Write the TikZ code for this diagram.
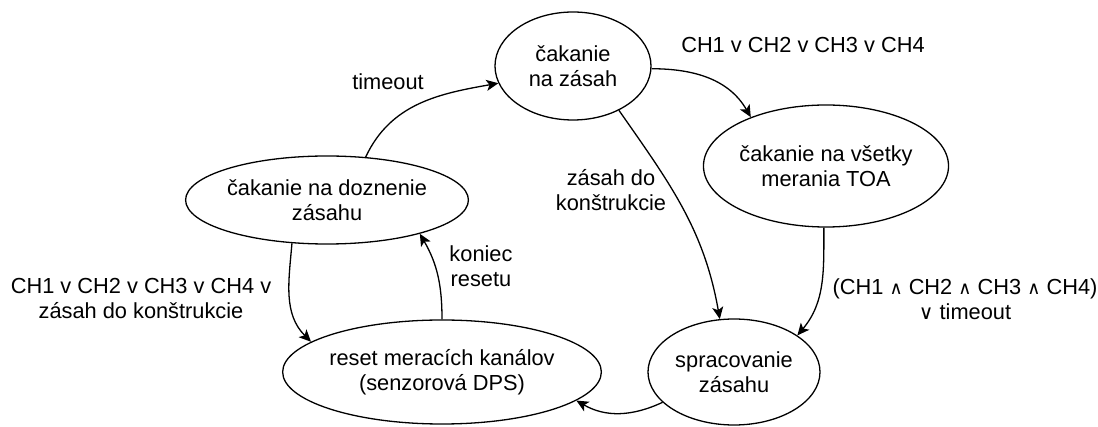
\documentclass[tikz,border=0pt]{standalone}
\usepackage{fontspec}
\setmainfont{Liberation Sans}
\newfontfamily\symf{DejaVu Sans}
\usetikzlibrary{shapes.geometric,arrows.meta}
\newcommand{\myand}{{\symf\fontsize{18}{25}\selectfont ∧}}
\newcommand{\myor}{{\symf\fontsize{20}{25}\selectfont ∨}}
\begin{document}
\begin{tikzpicture}[x=1pt,y=-1pt,
  every node/.style={font=\fontsize{21.8}{25}\selectfont, align=center, inner sep=0pt},
  state/.style={ellipse, draw, line width=1.3pt},
  conn/.style={draw, line width=1.3pt, -{Stealth[length=12pt,width=11pt,inset=3pt]}}
]
\useasboundingbox (0,0) rectangle (1098,427);
\node[state, minimum width=156pt, minimum height=108pt] (Z) at (573,66) {čakanie\\na zásah};
\node[state, minimum width=204pt, minimum height=122pt] (T) at (826,166) {čakanie na všetky\\merania TOA};
\node[state, minimum width=172pt, minimum height=106pt] (S) at (734,372) {spracovanie\\zásahu};
\node[state, minimum width=260pt, minimum height=104pt] (R) at (442,372) {reset meracích kanálov\\(senzorová DPS)};
\node[state, minimum width=248pt, minimum height=88pt] (D) at (327,200) {čakanie na doznenie\\zásahu};

\draw[conn] (D.48) to[out=65,in=190] (Z.193);
\draw[conn] (Z.358) to[out=0,in=120] (T.147);
\draw[conn] (T.268) to[out=270,in=50] (S.30);
\draw[conn] (Z.316) to[out=-55,in=100] (S.105);
\draw[conn] (S.203) to[out=205,in=330] (R.348);
\draw[conn] (D.231) to[out=265,in=135] (R.167);
\draw[conn] (R.90) to[out=90,in=300] (D.340);

\node (l1) at (388,82) {timeout};
\node (l2) at (803,45) {CH1 v CH2 v CH3 v CH4};
\node (l3) at (611,190) {zásah do\\konštrukcie};
\node (l4) at (965,299) {(CH1 \myand{} CH2 \myand{} CH3 \myand{} CH4)\\\myor{} timeout};
\node (l5) at (481,266) {koniec\\resetu};
\node (l6) at (141,298) {CH1 v CH2 v CH3 v CH4 v\\zásah do konštrukcie};
\end{tikzpicture}
\end{document}
